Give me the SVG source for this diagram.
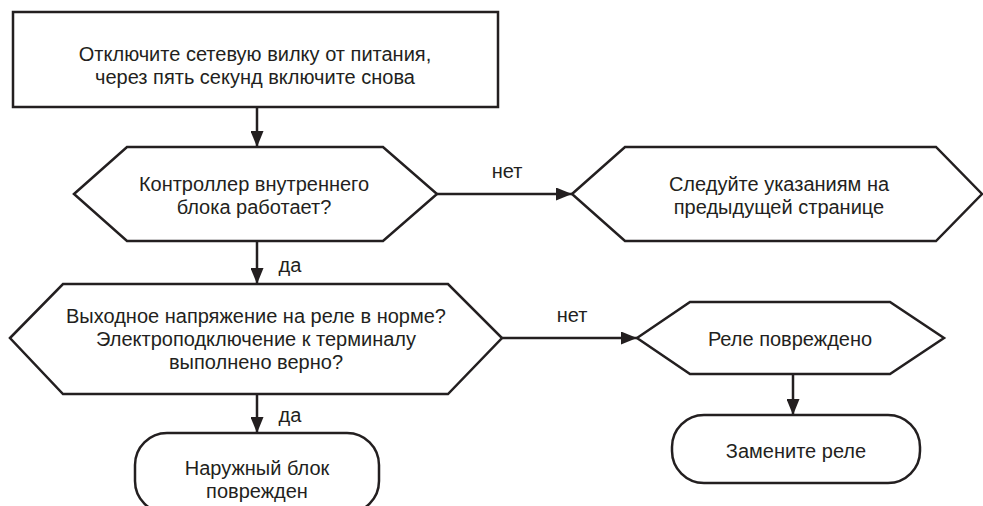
<svg xmlns="http://www.w3.org/2000/svg" width="983" height="506" viewBox="0 0 983 506">
<style>
.shape{fill:#fff;stroke:#231f20;stroke-width:2.5;stroke-linejoin:miter}
.edge{fill:none;stroke:#231f20;stroke-width:2.5}
text{font-family:"Liberation Sans",Arial,sans-serif;font-size:20px;fill:#231f20;text-anchor:middle}
</style>
<defs>
<marker id="arr" markerUnits="userSpaceOnUse" markerWidth="16" markerHeight="13" refX="16" refY="6.5" orient="auto">
<path d="M0,0 L16,6.5 L0,13 z" fill="#231f20"/>
</marker>
</defs>
<rect width="983" height="506" fill="#fff"/>
<g id="connectors">
<line class="edge" x1="257" y1="107" x2="257" y2="147" marker-end="url(#arr)"/>
<line class="edge" x1="437" y1="194" x2="572" y2="194" marker-end="url(#arr)"/>
<text x="507" y="178">нет</text>
<line class="edge" x1="257" y1="241" x2="257" y2="284" marker-end="url(#arr)"/>
<text x="290" y="272">да</text>
<line class="edge" x1="502" y1="338" x2="637" y2="338" marker-end="url(#arr)"/>
<text x="572" y="322">нет</text>
<line class="edge" x1="257" y1="394" x2="257" y2="433" marker-end="url(#arr)"/>
<text x="290" y="422">да</text>
<line class="edge" x1="793" y1="374" x2="793" y2="415" marker-end="url(#arr)"/>
</g>
<g id="n1">
<rect class="shape" x="13" y="12" width="485" height="95"/>
<text x="255" y="61">Отключите сетевую вилку от питания,</text>
<text x="255" y="84">через пять секунд включите снова</text>
</g>
<g id="n2">
<polygon class="shape" points="74,194 127,147 383,147 437,194 383,241 127,241"/>
<text x="254" y="191">Контроллер внутреннего</text>
<text x="254" y="214">блока работает?</text>
</g>
<g id="n3">
<polygon class="shape" points="572,194 625,147 936,147 982,194 936,241 625,241"/>
<text x="779" y="191">Следуйте указаниям на</text>
<text x="779" y="214">предыдущей странице</text>
</g>
<g id="n4">
<polygon class="shape" points="10,338 63,284 448,284 502,338 448,394 63,394"/>
<text x="256" y="323">Выходное напряжение на реле в норме?</text>
<text x="256" y="346">Электроподключение к терминалу</text>
<text x="256" y="369">выполнено верно?</text>
</g>
<g id="n5">
<polygon class="shape" points="637,338 690,302 890,302 944,338 890,374 690,374"/>
<text x="790" y="346">Реле повреждено</text>
</g>
<g id="n6">
<rect class="shape" x="672" y="415" width="248" height="68" rx="32" ry="32"/>
<text x="796" y="458">Замените реле</text>
</g>
<g id="n7">
<rect class="shape" x="135" y="433" width="244" height="80" rx="32" ry="32"/>
<text x="257" y="475">Наружный блок</text>
<text x="257" y="498">поврежден</text>
</g>
</svg>
